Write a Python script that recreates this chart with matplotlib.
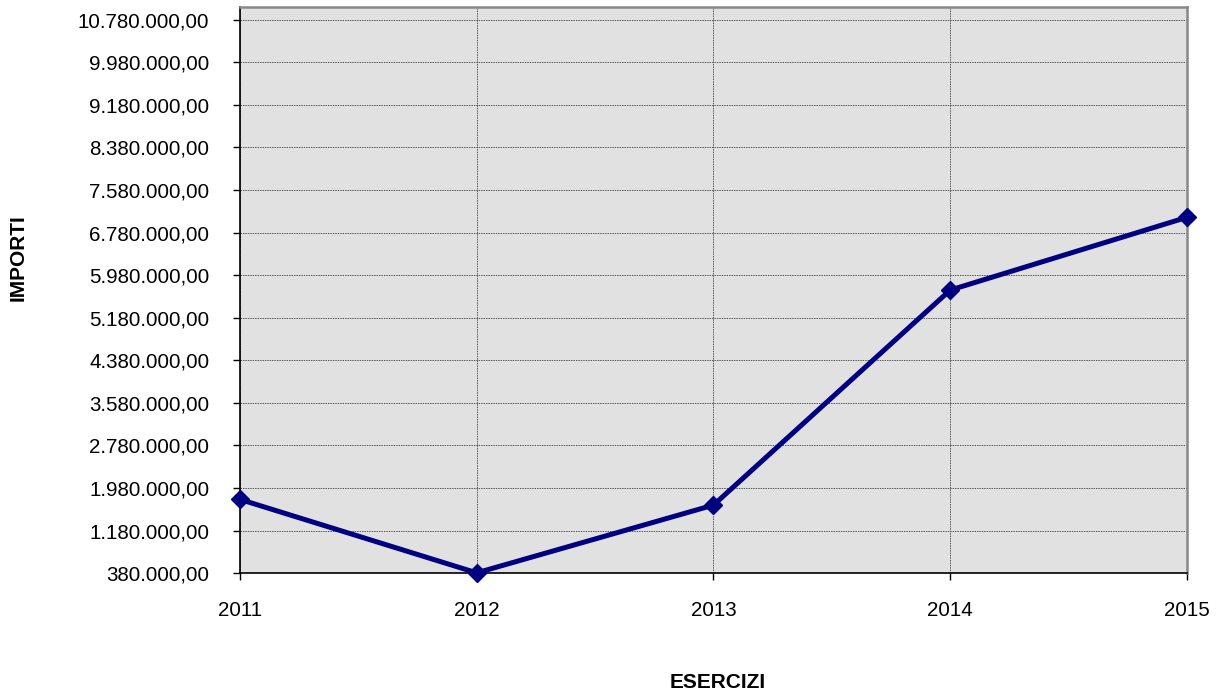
import matplotlib
matplotlib.use("Agg")
import matplotlib.pyplot as plt
from matplotlib.ticker import FuncFormatter, FixedLocator

years = ["2011", "2012", "2013", "2014", "2015"]
importi = [1765000, 385000, 1658000, 5699000, 7066000]
y_ticks = [380000 + 800000 * i for i in range(14)]

plt.rcParams['font.family'] = ['Liberation Sans', 'DejaVu Sans']

fig = plt.figure(figsize=(12.18, 6.93), dpi=100)
ax = fig.add_axes([0.197, 0.173, 0.9745 - 0.197, 0.990 - 0.173])
ax.set_facecolor('#e1e1e1')

x = list(range(len(years)))
ax.plot(x, importi, color='#000080', linewidth=3.6, marker='D', markersize=9,
        markeredgecolor='#000080', markerfacecolor='#000080', zorder=5, clip_on=False)

ax.set_xlim(0, len(years) - 1)
ax.set_ylim(380000, 11020000)
ax.set_xticks(x)
ax.set_xticklabels(years)
ax.yaxis.set_major_locator(FixedLocator(y_ticks))

def fmt(v, pos):
    s = f"{v:,.2f}"
    return s.replace(",", "X").replace(".", ",").replace("X", ".")
ax.yaxis.set_major_formatter(FuncFormatter(fmt))

ax.grid(True, color='#555555', linestyle=(0, (1.5, 1)), linewidth=0.7)
ax.set_axisbelow(True)

ax.tick_params(axis='both', labelsize=14.8, length=5, width=1, color='black')
ax.tick_params(axis='x', pad=15)
ax.tick_params(axis='y', pad=17)

for s in ['left', 'bottom']:
    ax.spines[s].set_color('black')
    ax.spines[s].set_linewidth(1.2)
for s in ['top', 'right']:
    ax.spines[s].set_color('#888888')
    ax.spines[s].set_linewidth(1.8)

fig.text(0.015, 0.628, 'IMPORTI', rotation=90, fontsize=15, fontweight='bold',
         ha='center', va='center')
fig.text(0.589, 0.015, 'ESERCIZI', fontsize=15, fontweight='bold',
         ha='center', va='center')

fig.savefig('out.png', dpi=100)
